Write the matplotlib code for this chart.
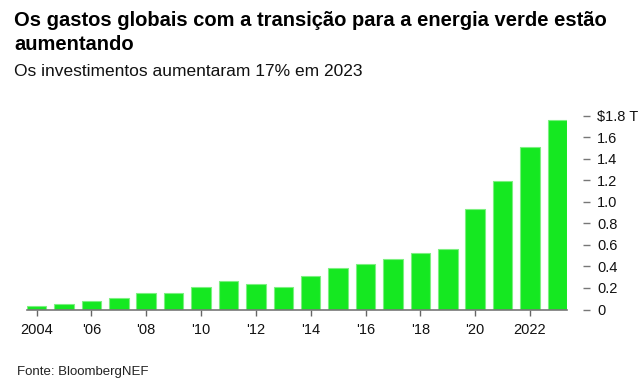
import matplotlib
matplotlib.use("Agg")
import matplotlib.pyplot as plt
import numpy as np

plt.rcParams['font.family'] = ['Liberation Sans', 'DejaVu Sans']

# Energy transition investment, trillion USD
years = list(range(2004, 2024))
investment = [0.032, 0.053, 0.080, 0.105, 0.155, 0.152, 0.210, 0.265, 0.238, 0.210,
              0.310, 0.385, 0.425, 0.466, 0.524, 0.561, 0.932, 1.190, 1.505, 1.764]

xtick_years = list(range(2004, 2024, 2))
xtick_labels = ['2004', "'06", "'08", "'10", "'12", "'14", "'16", "'18", "'20", '2022']
ytick_values = [0, 0.2, 0.4, 0.6, 0.8, 1.0, 1.2, 1.4, 1.6, 1.8]
ytick_labels = ['0', '0.2', '0.4', '0.6', '0.8', '1.0', '1.2', '1.4', '1.6', r'\$1.8 T']

title = 'Os gastos globais com a transição para a energia verde estão\naumentando'
subtitle = 'Os investimentos aumentaram 17% em 2023'
source = 'Fonte: BloombergNEF'

W, H = 643, 385
fig = plt.figure(figsize=(W / 100, H / 100), dpi=100)
ax = fig.add_axes([26.7 / W, 1 - 309.5 / H, (567.3 - 26.7) / W, (309.5 - 115.7) / H])

ax.bar(years, investment, width=0.71, color='#15e821', edgecolor='#7cf080', linewidth=0.8)

ax.set_xlim(2004 - 0.36, 2023 + 0.36)
ax.set_ylim(0, 1.8)

for side in ['top', 'left']:
	ax.spines[side].set_visible(False)
ax.spines['right'].set_position(('outward', 11.5))
ax.spines['right'].set_color('none')
ax.spines['bottom'].set_color('#777777')
ax.spines['bottom'].set_linewidth(1.2)
ax.spines['bottom'].set_zorder(3)

ax.set_xticks(xtick_years)
ax.set_xticklabels(xtick_labels)
ax.tick_params(axis='x', direction='out', length=4.5, width=1.0, color='#666666',
	labelsize=10.5, pad=5, labelcolor='#111111')

ax.yaxis.tick_right()
ax.set_yticks(ytick_values)
ax.set_yticklabels(ytick_labels)
ax.tick_params(axis='y', direction='out', length=5, width=1.0, color='#777777',
	labelsize=10.5, pad=5, labelcolor='#111111')
for lbl in ax.get_yticklabels():
	lbl.set_horizontalalignment('left')

fig.text(14 / W, 1 - 11 / H, title, fontsize=14.5, fontweight='bold', va='top', ha='left',
	color='#000000', linespacing=1.32)
fig.text(14 / W, 1 - 64 / H, subtitle, fontsize=12.5, va='top', ha='left', color='#111111')
fig.text(17 / W, 1 - 372 / H, source, fontsize=9.5, va='center', ha='left', color='#222222')

fig.savefig('out.png', dpi=100)
